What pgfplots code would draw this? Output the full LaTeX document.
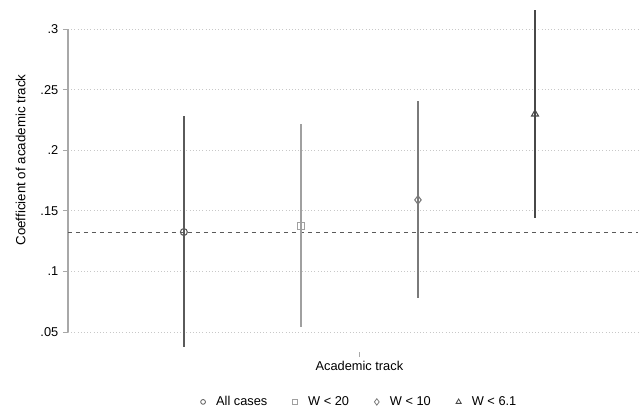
\documentclass[border=0pt]{standalone}
\usepackage{pgfplots}
\pgfplotsset{compat=1.18}
\usepackage{fontspec}
\setmainfont{Liberation Sans}
\definecolor{cA}{HTML}{5A5A5A}
\definecolor{cB}{HTML}{A0A0A0}
\definecolor{cC}{HTML}{7A7A7A}
\definecolor{cD}{HTML}{484848}
\definecolor{gridc}{HTML}{C8C8C8}
\definecolor{axc}{HTML}{A8A8A8}
\begin{document}
\begin{tikzpicture}
\path[use as bounding box] (0,0) rectangle (480pt,308.25pt);
\begin{axis}[
  at={(51pt,44.25pt)}, anchor=south west,
  scale only axis, width=427.5pt, height=261.75pt,
  xmin=0.01, xmax=4.88, ymin=0.0335, ymax=0.3215,
  axis y line*=left, axis x line*=bottom,
  x axis line style={draw=none},
  y axis line style={draw=none},
  xtick={2.5}, xticklabels={Academic track},
  ytick={0.05,0.1,0.15,0.2,0.25,0.3},
  yticklabels={.05,.1,.15,.2,.25,.3},
  tick align=outside, major tick length=3.75pt,
  every tick/.style={draw=axc, line width=0.6pt},
  ymajorgrids, grid style={gridc, dotted, line width=0.6pt},
  font=\fontsize{9.6}{11}\selectfont,
  ticklabel style={font=\fontsize{9.6}{11}\selectfont},
  ylabel={Coefficient of academic track},
  ylabel style={font=\fontsize{10}{11}\selectfont, at={(axis description cs:-0.083,0.55)}, anchor=center},
  legend style={at={(axis description cs:0.512,-0.143)}, anchor=center, draw=none, fill=none,
    font=\fontsize{9.6}{11}\selectfont,
    /tikz/every odd column/.append style={column sep=6pt},
    /tikz/every even column/.append style={column sep=17pt}},
  legend columns=4,
  legend image code/.code={\draw[mark repeat=2,mark phase=2,#1] plot coordinates {(0pt,0pt) (5pt,0pt) (10pt,0pt)};},
  clip=false,
]
\addplot[axc, line width=0.8pt, forget plot] coordinates {(0.01,0.05) (0.01,0.3)};
\addplot[cD!90, dashed, line width=0.75pt, forget plot] coordinates {(0.01,0.1325) (4.88,0.1325)};
\addplot[only marks, color=cA, mark=o, mark size=2.6pt, mark options={line width=0.8pt, fill=none},
  legend image post style={mark size=1.8pt, mark options={line width=0.6pt}},
  error bars/.cd, y dir=both, y explicit, error mark=none,
  error bar style={line width=1.1pt, cA}]
  coordinates {(1,0.1325) += (0,0.0955) -= (0,0.0949)};
\addlegendentry{All cases}
\addplot[only marks, color=cB, mark=square, mark size=2.6pt, mark options={line width=0.8pt, fill=none},
  legend image post style={mark size=1.8pt, mark options={line width=0.6pt}},
  error bars/.cd, y dir=both, y explicit, error mark=none,
  error bar style={line width=1.1pt, cB}]
  coordinates {(2,0.1375) += (0,0.0841) -= (0,0.0835)};
\addlegendentry{W < 20}
\addplot[only marks, color=cC, mark=diamond, mark size=3.2pt, mark options={line width=0.8pt, fill=none},
  legend image post style={mark size=2.4pt, mark options={line width=0.6pt}},
  error bars/.cd, y dir=both, y explicit, error mark=none,
  error bar style={line width=1.1pt, cC}]
  coordinates {(3,0.159) += (0,0.0816) -= (0,0.081)};
\addlegendentry{W < 10}
\addplot[only marks, color=cD, mark=triangle, mark size=3pt, mark options={line width=0.8pt, fill=none},
  legend image post style={mark size=2.2pt, mark options={line width=0.6pt}},
  error bars/.cd, y dir=both, y explicit, error mark=none,
  error bar style={line width=1.1pt, cD}]
  coordinates {(4,0.2299) += (0,0.0858) -= (0,0.0859)};
\addlegendentry{W < 6.1}
\end{axis}
\end{tikzpicture}
\end{document}
